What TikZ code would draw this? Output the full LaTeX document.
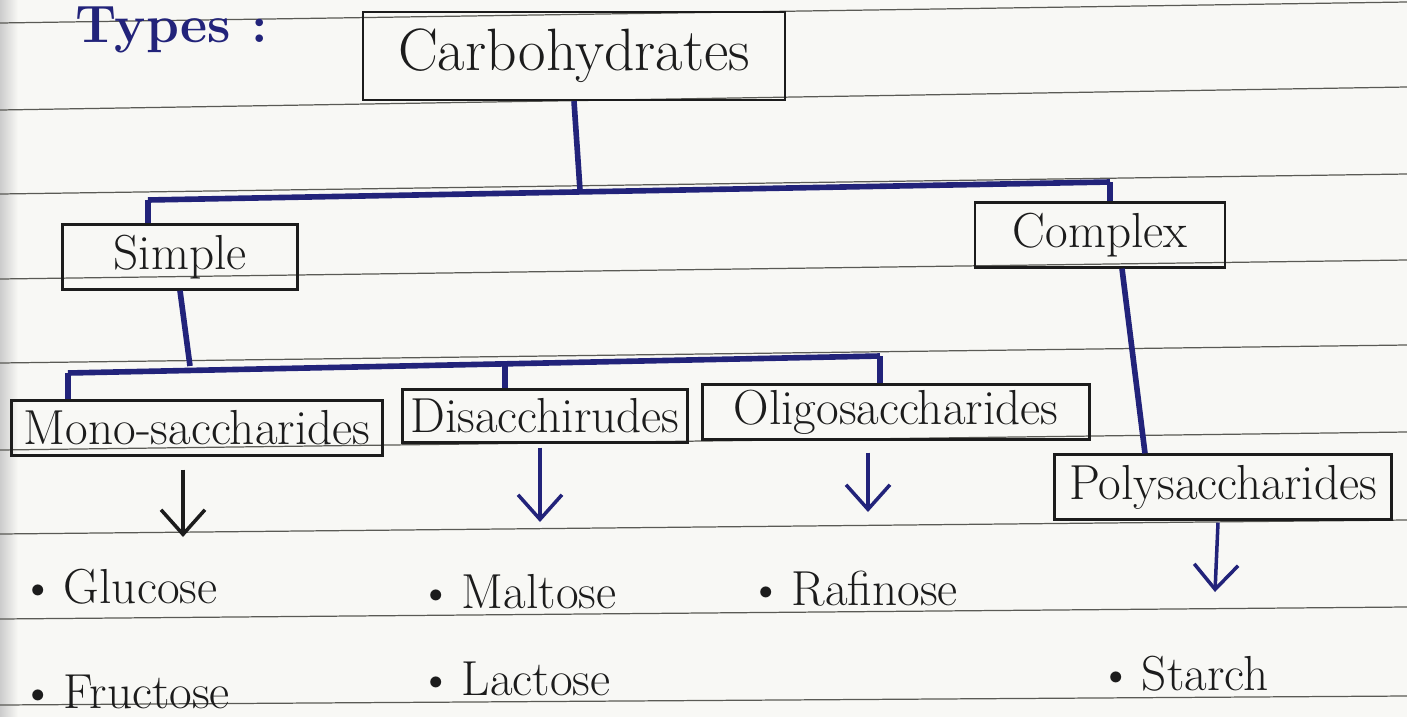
\documentclass[tikz,border=0pt]{standalone}
\usepackage{fontspec}
\usepackage{tikz}
\usetikzlibrary{arrows.meta,calc,positioning}
\definecolor{ink}{HTML}{22237A}
\definecolor{pencil}{HTML}{1C1C1C}
\definecolor{rule}{HTML}{5A5A55}
\definecolor{paper}{HTML}{F8F8F5}

\begin{document}
\begin{tikzpicture}[x=0.02cm,y=-0.02cm,
  box/.style={draw=pencil,line width=1.3pt,inner sep=0pt,text=pencil,font=\fontsize{28}{30}\selectfont},
  link/.style={ink,line width=3.2pt},
  down/.style={->,line width=2pt,>={Straight Barb[length=14pt,width=25pt]}},
  item/.style={anchor=base west,inner sep=0pt,text=pencil,font=\fontsize{28}{30}\selectfont}]
  \useasboundingbox (0,0) rectangle (1407,717);
  \clip (0,0) rectangle (1407,717);
  \fill[paper] (0,0) rectangle (1407,717);
  \shade[left color=black!20,right color=paper] (0,0) rectangle (18,717);
  % ruled lines of the page
  \foreach \l/\r in {23/2,110/87,194/174,279/260,363/345,450/432,534/520,619/607,705/696}
    \draw[rule,line width=0.7pt] (0,\l) -- (1407,\r);
  \node[anchor=base west,inner sep=0pt,text=ink,font=\fontsize{30}{32}\selectfont\bfseries] (types) at (75,42) {Types :};

  \node[box,minimum width=8.44cm,minimum height=1.76cm,font=\fontsize{34}{36}\selectfont] (carb) at (574,56) {Carbohydrates};
  \node[box,minimum width=4.7cm,minimum height=1.3cm] (simple) at (180,257) {Simple};
  \node[box,minimum width=5cm,minimum height=1.3cm] (complex) at (1100,235) {Complex};
  \node[box,minimum width=7.42cm,minimum height=1.1cm] (mono) at (197,428) {Mono-saccharides};
  \node[box,minimum width=5.7cm,minimum height=1.06cm] (di) at (545,416) {Disacchirudes};
  \node[box,minimum width=7.74cm,minimum height=1.1cm] (oligo) at (896,412) {Oligosaccharides};
  \node[box,minimum width=6.74cm,minimum height=1.3cm] (poly) at (1223,487) {Polysaccharides};

  % first split
  \coordinate (top) at (580,190);
  \coordinate (left1) at (148,200);
  \coordinate (right1) at (1110,182);
  \draw[link] (carb.south) -- (top);
  \draw[link] (left1) -- (right1);
  \draw[link] (left1) -- (left1 |- simple.north);
  \draw[link] (right1) -- (right1 |- complex.north);

  % simple split
  \coordinate (mid2) at (190,366);
  \coordinate (left2) at (68,373);
  \coordinate (di2) at (505,364);
  \coordinate (right2) at (880,356);
  \draw[link] (simple.south) -- (mid2);
  \draw[link] (left2) -- (right2);
  \draw[link] (left2) -- (left2 |- mono.north);
  \draw[link] (di2) -- (di2 |- di.north);
  \draw[link] (right2) -- (right2 |- oligo.north);
  \draw[link] ($(complex.south)+(22,0)$) -- ($(poly.north)+(-78,0)$);

  % examples
  \node[item] (glucose) at (20,603) {\textbullet\,Glucose};
  \node[item] (fructose) at (20,708) {\textbullet\,Fructose};
  \node[item] (maltose) at (418,608) {\textbullet\,Maltose};
  \node[item] (lactose) at (418,695) {\textbullet\,Lactose};
  \node[item] (rafinose) at (748,605) {\textbullet\,Rafinose};
  \node[item] (starch) at (1098,690) {\textbullet\,Starch};

  \coordinate (gTip) at (183,537);
  \coordinate (mTip) at (540,522);
  \coordinate (rTip) at (868,512);
  \coordinate (sTip) at (1215,592);
  \draw[down,pencil] ($(mono.south)+(-14,13)$) -- (gTip);
  \draw[down,ink] ($(di.south)+(-5,4)$) -- (mTip);
  \draw[down,ink] ($(oligo.south)+(-28,12)$) -- (rTip);
  \draw[down,ink] ($(poly.south)+(-5,2)$) -- (sTip);
\end{tikzpicture}
\end{document}
